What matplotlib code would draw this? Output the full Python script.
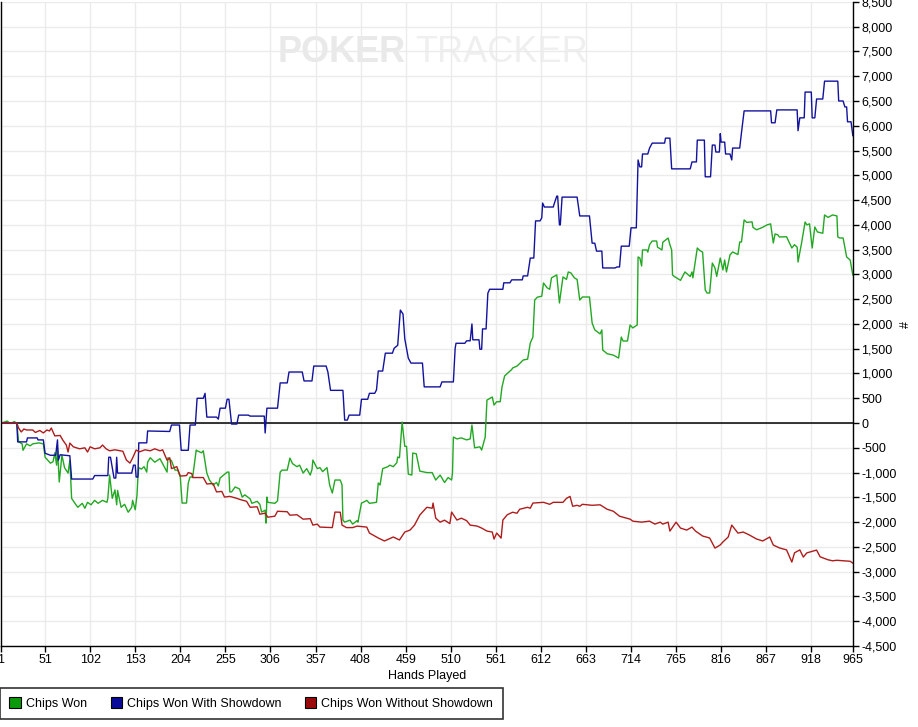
import matplotlib
matplotlib.use('Agg')

import matplotlib.pyplot as plt
from matplotlib.patches import Patch
from matplotlib.ticker import FuncFormatter, MultipleLocator

plt.rcParams['font.family'] = ['Liberation Sans', 'DejaVu Sans']
FONT_SIZE = 9
plt.rcParams['font.size'] = FONT_SIZE

# Chips Won (all hands)
wonHands = [1, 5, 8, 12, 16, 19, 21, 25, 26, 30, 34, 37, 44, 49, 51, 54, 57, 60, 62, 64,
            65, 67, 70, 73, 77, 79, 81, 84, 88, 93, 96, 99, 103, 107, 111, 116, 121, 122, 124, 127,
            130, 132, 133, 137, 141, 145, 149, 150, 153, 155, 156, 157, 160, 163, 166, 167, 170, 175, 181, 189,
            190, 194, 198, 201, 204, 206, 211, 213, 215, 218, 222, 223, 228, 230, 234, 237, 241, 245, 247, 249,
            257, 259, 260, 262, 266, 271, 274, 277, 283, 285, 291, 294, 296, 300, 301, 302, 303, 311, 314, 317,
            319, 325, 328, 331, 336, 339, 343, 347, 351, 353, 354, 359, 362, 365, 370, 373, 376, 379, 385, 387,
            388, 390, 396, 399, 404, 405, 409, 411, 415, 418, 426, 428, 430, 433, 439, 441, 445, 449, 450, 452,
            455, 458, 460, 462, 466, 467, 471, 473, 475, 483, 489, 493, 498, 503, 507, 511, 512, 513, 517, 522,
            528, 532, 534, 537, 543, 545, 549, 551, 557, 559, 562, 566, 568, 571, 574, 579, 580, 585, 588, 592,
            597, 600, 603, 605, 608, 613, 615, 619, 622, 624, 630, 633, 637, 641, 643, 646, 650, 653, 656, 659,
            667, 670, 673, 679, 681, 682, 687, 694, 700, 703, 705, 710, 713, 716, 721, 722, 724, 726, 727, 732,
            733, 735, 738, 743, 744, 749, 750, 756, 758, 760, 761, 763, 770, 775, 781, 783, 784, 789, 792, 795,
            798, 800, 803, 806, 809, 811, 815, 818, 820, 822, 826, 829, 835, 837, 839, 842, 845, 851, 852, 856,
            863, 868, 872, 875, 877, 880, 882, 890, 896, 899, 902, 903, 907, 911, 913, 916, 919, 922, 925, 931,
            933, 937, 942, 947, 948, 950, 954, 958, 962, 965]
wonChips = [0, 20, 40, -10, 30, 0, -380, -420, -550, -420, -460, -420, -400, -420, -690, -750, -810, -780, -600, -850,
            -500, -1190, -650, -900, -1010, -750, -1520, -1600, -1700, -1620, -1720, -1600, -1650, -1560, -1620, -1560, -1600, -1520, -1050, -1520,
            -1350, -1650, -1360, -1700, -1640, -1800, -1700, -1560, -1750, -1450, -1100, -900, -930, -880, -990, -790, -700, -790, -720, -990,
            -700, -760, -950, -950, -1090, -1615, -1615, -1210, -1090, -1090, -545, -560, -600, -560, -1010, -1150, -1250, -1200, -1270, -1110,
            -990, -990, -1390, -1390, -1290, -1330, -1494, -1450, -1530, -1620, -1580, -1640, -1797, -1760, -2020, -1494, -1600, -1620, -1570, -990,
            -950, -950, -707, -820, -880, -850, -1010, -920, -1050, -940, -747, -920, -900, -980, -900, -1252, -1413, -1150, -1150, -1250,
            -1958, -2000, -1960, -2040, -1970, -2000, -1615, -1600, -1560, -1620, -1600, -1211, -1250, -920, -880, -850, -880, -800, -686, -700,
            20, -470, -470, -1030, -1050, -606, -620, -800, -970, -1000, -1000, -1150, -1050, -1200, -1100, -1150, -1000, -283, -320, -300,
            -340, -320, -40, -500, -480, -545, -283, 464, 525, 363, 430, 430, 727, 950, 1000, 1080, 1110, 1150, 1200, 1272,
            1290, 1615, 1736, 2483, 2540, 2560, 2827, 2730, 2700, 2930, 2990, 2423, 2948, 2900, 3049, 3030, 2928, 2900, 2483, 2544,
            2544, 2019, 1880, 1800, 1880, 1474, 1400, 1370, 1312, 1736, 1656, 1656, 1979, 1920, 1979, 3352, 3331, 3170, 3493, 3493,
            3450, 3600, 3674, 3674, 3550, 3493, 3650, 3734, 3600, 3493, 2988, 2958, 2880, 3050, 2958, 3050, 2930, 3533, 3480, 3450,
            2685, 2625, 2625, 3230, 3130, 2960, 3331, 3090, 3291, 3049, 3392, 3453, 3400, 3654, 3654, 4099, 4050, 4060, 3950, 3900,
            3950, 4000, 4020, 3634, 3816, 3800, 3755, 3760, 3533, 3600, 3550, 3250, 3634, 4058, 4000, 4020, 3533, 3957, 3856, 3830,
            4200, 4150, 4200, 4180, 3755, 3735, 3735, 3352, 3290, 2988]

# Chips Won With Showdown
sdHands = [1, 19, 20, 30, 31, 42, 43, 49, 51, 57, 63, 65, 66, 68, 79, 81, 105, 107, 122, 123,
           125, 129, 131, 132, 133, 149, 151, 153, 154, 156, 157, 166, 167, 192, 194, 203, 205, 213, 215, 221,
           223, 230, 232, 234, 245, 247, 249, 255, 257, 259, 262, 268, 270, 281, 283, 299, 300, 302, 314, 317,
           325, 327, 342, 344, 353, 355, 369, 371, 374, 388, 390, 393, 395, 407, 409, 416, 418, 424, 426, 428,
           433, 436, 444, 446, 450, 453, 456, 458, 462, 465, 478, 480, 498, 500, 513, 515, 516, 526, 528, 532,
           534, 535, 542, 543, 545, 546, 550, 552, 554, 569, 570, 577, 579, 591, 592, 597, 600, 604, 606, 611,
           613, 614, 616, 626, 627, 630, 631, 633, 634, 636, 653, 656, 667, 670, 673, 675, 681, 682, 696, 698,
           701, 703, 712, 714, 720, 722, 724, 726, 727, 733, 735, 738, 752, 753, 758, 760, 781, 783, 788, 789,
           797, 798, 804, 806, 809, 810, 814, 815, 816, 820, 821, 826, 828, 829, 837, 839, 842, 872, 873, 877,
           879, 902, 903, 905, 910, 911, 918, 919, 922, 924, 931, 933, 948, 949, 954, 956, 958, 959, 963, 965]
sdChips = [0, 0, -380, -380, -300, -300, -340, -340, -610, -650, -650, -340, -750, -640, -660, -1130, -1130, -1060, -1060, -690,
           -690, -1110, -1110, -690, -1010, -1010, -850, -850, -1090, -1090, -400, -400, -160, -170, -40, -40, -550, -550, -40, -40,
           500, 500, 600, 120, 120, 80, 300, 300, 480, 480, -20, -20, 160, 160, 140, 140, -200, 300, 300, 810,
           810, 1030, 1030, 850, 850, 1150, 1150, 1030, 660, 660, 60, 60, 160, 160, 480, 480, 600, 600, 670, 1050,
           1050, 1410, 1410, 1510, 1570, 2280, 2200, 1700, 1310, 1210, 1210, 730, 730, 830, 830, 1510, 1610, 1610, 1660, 1660,
           2000, 1680, 1680, 1490, 1490, 1900, 1900, 2620, 2700, 2700, 2830, 2830, 2890, 2890, 2970, 2970, 3330, 3330, 4080, 4080,
           4140, 4440, 4360, 4360, 4420, 4580, 4580, 4000, 4000, 4560, 4560, 4180, 4180, 3630, 3630, 3470, 3470, 3130, 3130, 3150,
           3150, 3570, 3570, 3940, 3940, 5310, 5170, 5170, 5430, 5430, 5550, 5650, 5650, 5750, 5750, 5130, 5130, 5270, 5270, 5710,
           5710, 4970, 4970, 5610, 5610, 5470, 5470, 5840, 5670, 5670, 5430, 5430, 5310, 5550, 5550, 5860, 6300, 6300, 6060, 6060,
           6320, 6320, 5900, 6160, 6160, 6680, 6680, 6160, 6160, 6540, 6540, 6900, 6900, 6500, 6500, 6380, 6380, 6080, 6080, 5800]

# Chips Won Without Showdown
nsdHands = [1, 19, 21, 24, 27, 30, 37, 40, 45, 49, 53, 56, 58, 62, 68, 71, 75, 77, 79, 83,
            90, 96, 99, 102, 107, 113, 116, 120, 124, 130, 139, 143, 147, 150, 154, 158, 164, 170, 175, 181,
            184, 189, 192, 194, 200, 204, 211, 213, 217, 218, 230, 234, 241, 245, 251, 254, 260, 268, 271, 279,
            283, 291, 294, 300, 303, 311, 314, 325, 328, 336, 343, 351, 354, 359, 362, 376, 379, 385, 387, 392,
            399, 404, 415, 418, 428, 435, 445, 452, 458, 464, 469, 475, 483, 489, 490, 493, 498, 503, 509, 511,
            517, 522, 528, 532, 540, 545, 551, 557, 559, 562, 567, 569, 574, 580, 585, 588, 597, 600, 603, 615,
            622, 626, 637, 641, 645, 648, 653, 656, 659, 670, 679, 687, 694, 701, 713, 716, 726, 735, 741, 747,
            750, 756, 758, 765, 770, 777, 783, 787, 795, 803, 809, 815, 818, 824, 828, 835, 841, 848, 856, 863,
            871, 875, 882, 890, 896, 899, 905, 909, 913, 924, 928, 937, 942, 947, 962, 965]
nsdChips = [0, 0, -100, -180, -120, -140, -140, -190, -150, -200, -140, -160, -100, -260, -250, -343, -444, -585, -404, -480,
            -520, -500, -585, -480, -520, -500, -444, -520, -560, -540, -570, -747, -808, -707, -545, -580, -540, -560, -520, -560,
            -540, -750, -700, -920, -880, -1070, -1060, -1000, -1020, -1100, -1100, -1230, -1220, -1390, -1380, -1494, -1480, -1520, -1540, -1580,
            -1700, -1690, -1840, -1820, -1900, -1880, -1780, -1790, -1860, -1850, -1940, -1930, -2060, -2040, -2100, -2110, -1797, -1800, -2060, -2110,
            -2110, -2080, -2100, -2220, -2320, -2380, -2300, -2360, -2200, -2160, -2060, -1857, -1700, -1720, -1615, -1918, -2000, -1960, -2030, -1797,
            -1958, -1920, -1970, -2060, -2080, -2120, -2180, -2200, -2342, -2220, -2322, -1958, -1850, -1800, -1820, -1740, -1700, -1720, -1615, -1600,
            -1640, -1600, -1600, -1520, -1480, -1680, -1660, -1680, -1640, -1660, -1650, -1740, -1780, -1880, -1940, -1980, -2000, -1980, -2040, -2000,
            -2040, -2000, -2180, -2000, -2120, -2160, -2100, -2180, -2280, -2320, -2524, -2460, -2400, -2300, -2059, -2221, -2200, -2260, -2340, -2380,
            -2300, -2463, -2520, -2560, -2806, -2620, -2560, -2705, -2620, -2564, -2700, -2760, -2780, -2770, -2790, -2827]

xTicks = [1, 51, 102, 153, 204, 255, 306, 357, 408, 459, 510, 561, 612, 663, 714, 765, 816, 867, 918, 965]
seriesNames = ['Chips Won', 'Chips Won With Showdown', 'Chips Won Without Showdown']
lineColors = ['#22a822', '#12129e', '#b01c1c']
boxColors = ['#0a9a0a', '#0a0a9a', '#9a0a0a']

fig = plt.figure(figsize=(9.18, 7.27), dpi=100)
ax = fig.add_axes([0.001, 0.1114, 0.928, 0.886])

# watermark
ax.text(0.325, 0.922, 'POKER', transform=ax.transAxes, fontsize=26, fontweight='bold',
        color='#e9e9e9', ha='left', va='center', zorder=0.1)
ax.text(0.486, 0.922, 'TRACKER', transform=ax.transAxes, fontsize=26,
        color='#efefef', ha='left', va='center', zorder=0.1)

ax.axhline(0, color='black', lw=1.1, zorder=1.5)
ax.plot(wonHands, wonChips, color=lineColors[0], lw=1.0, zorder=2)
ax.plot(sdHands, sdChips, color=lineColors[1], lw=1.0, zorder=2)
ax.plot(nsdHands, nsdChips, color=lineColors[2], lw=1.0, zorder=2)

ax.set_xlim(1, 965)
ax.set_ylim(-4500, 8500)
ax.set_xticks(xTicks)
ax.yaxis.set_major_locator(MultipleLocator(500))
ax.yaxis.set_major_formatter(FuncFormatter(lambda v, p: f'{int(v):,}'))
ax.yaxis.tick_right()
ax.tick_params(axis='both', direction='out', length=4, width=1, color='black', labelsize=FONT_SIZE)
ax.tick_params(axis='y', pad=2)
ax.tick_params(axis='x', pad=2)

ax.set_xlabel('Hands Played', fontsize=FONT_SIZE, labelpad=3)
ax.xaxis.set_label_coords(0.5, -0.038)
fig.text(906 / 918, 1 - 325 / 727, '#', fontsize=FONT_SIZE, rotation=90, ha='center', va='center')

ax.grid(True, color='#ebebeb', lw=1)
ax.set_axisbelow(True)
ax.spines['top'].set_visible(False)
for side in ['left', 'right', 'bottom']:
    ax.spines[side].set_color('black')
    ax.spines[side].set_linewidth(1)

handles = [Patch(facecolor=c, edgecolor='black', lw=0.8) for c in boxColors]
leg = fig.legend(handles, seriesNames, loc='lower left', bbox_to_anchor=(0.0, 0.011),
                 ncol=3, frameon=True, fancybox=False, fontsize=FONT_SIZE,
                 handlelength=0.9, handleheight=0.9, handletextpad=0.4,
                 columnspacing=1.9, borderpad=0.75, borderaxespad=0)
leg.get_frame().set_edgecolor('black')
leg.get_frame().set_linewidth(1.2)

fig.savefig('out.png', dpi=100)
